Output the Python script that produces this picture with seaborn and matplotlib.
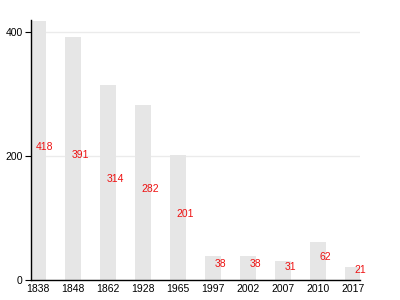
import matplotlib
matplotlib.use("Agg")
import matplotlib.pyplot as plt
import seaborn as sns
import pandas as pd

years = ["1838", "1848", "1862", "1928", "1965", "1997", "2002", "2007", "2010", "2017"]
population = [418, 391, 314, 282, 201, 38, 38, 31, 62, 21]
yticks = [0, 200, 400]

sns.set_theme(style="white")
plt.rcParams['font.family'] = ['Liberation Sans', 'DejaVu Sans']

df = pd.DataFrame({"year": years, "pop": population})

fig = plt.figure(figsize=(4, 3), dpi=100)
ax = fig.add_axes([0.0775, 0.0667, 0.8225, 0.8667])
ax.set_axisbelow(True)
ax.yaxis.grid(True, color="#ebebeb", linewidth=1)
sns.barplot(data=df, x="year", y="pop", color="#e6e6e6", saturation=1,
            width=0.45, ax=ax, edgecolor="none")

for i, v in enumerate(population):
    ax.text(i + 0.2, v / 2 - 2, str(v), color="#ee1111", fontsize=7.5,
            ha="center", va="bottom")

ax.set_xlim(-0.2, 9.2)
ax.set_ylim(0, 419)
ax.set_yticks(yticks)
ax.set_xlabel("")
ax.set_ylabel("")
for s in ["top", "right"]:
    ax.spines[s].set_visible(False)
ax.spines["left"].set_color("black")
ax.spines["bottom"].set_color("black")
ax.spines["left"].set_linewidth(1)
ax.spines["bottom"].set_linewidth(1)
ax.tick_params(axis="y", length=4, width=0.8, color="black", labelcolor="black",
               labelsize=7.5, pad=2, left=True)
ax.tick_params(axis="x", length=0, labelsize=7.5, pad=3, labelcolor="black")
fig.savefig("out.png", dpi=100)
